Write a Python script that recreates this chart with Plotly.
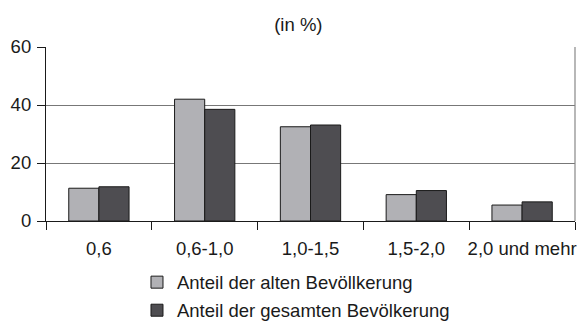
import plotly.graph_objects as go

categories = ["0,6", "0,6-1,0", "1,0-1,5", "1,5-2,0", "2,0 und mehr"]
alte = [11.3, 42.0, 32.5, 9.1, 5.5]
gesamt = [11.8, 38.5, 33.1, 10.5, 6.6]
series_names = ["Anteil der alten Bevöllkerung", "Anteil der gesamten Bevölkerung"]

fig = go.Figure()
fig.add_trace(go.Bar(
    x=categories, y=alte, name=series_names[0], legendgroup="a",
    marker=dict(color="#b1b1b5", line=dict(color="#1a1a1a", width=1)),
))
fig.add_trace(go.Bar(
    x=categories, y=gesamt, name=series_names[1], legendgroup="b",
    marker=dict(color="#4e4d51", line=dict(color="#1a1a1a", width=1)),
))

fig.update_layout(
    width=585, height=322,
    margin=dict(l=46, r=10, t=47, b=101, autoexpand=False),
    paper_bgcolor="white", plot_bgcolor="white",
    font=dict(family="Liberation Sans, Arial, sans-serif", size=18.5, color="#1a1a1a"),
    title=dict(text="(in %)", x=0.51, xanchor="center", y=0.925, yanchor="middle",
               font=dict(size=18.5)),
    barmode="group", bargap=0.43, bargroupgap=0,
    showlegend=True,
    legend=dict(x=0.172, xanchor="left", y=-0.245, yanchor="top",
                font=dict(size=18.5), tracegroupgap=1, itemwidth=30),
    xaxis=dict(
        showline=True, linecolor="#1a1a1a", linewidth=1.2,
        ticks="outside", tickson="boundaries", ticklen=8, tickcolor="#1a1a1a",
        ticklabelstandoff=11, tickangle=0,
        showgrid=False, automargin=False,
    ),
    yaxis=dict(
        range=[0, 60], tickvals=[0, 20, 40, 60],
        showline=True, linecolor="#1a1a1a", linewidth=1.2,
        ticks="outside", ticklen=8, tickcolor="#1a1a1a",
        ticklabelstandoff=2,
        showgrid=True, gridcolor="#777777", gridwidth=1.2,
        zeroline=False, automargin=False,
    ),
    shapes=[dict(type="line", xref="paper", yref="paper", x0=1, x1=1, y0=0, y1=1,
                 line=dict(color="#888888", width=1.2))],
)

fig.write_html("out.html", config={"displayModeBar": False},
               post_script="document.body.style.margin='0';")
